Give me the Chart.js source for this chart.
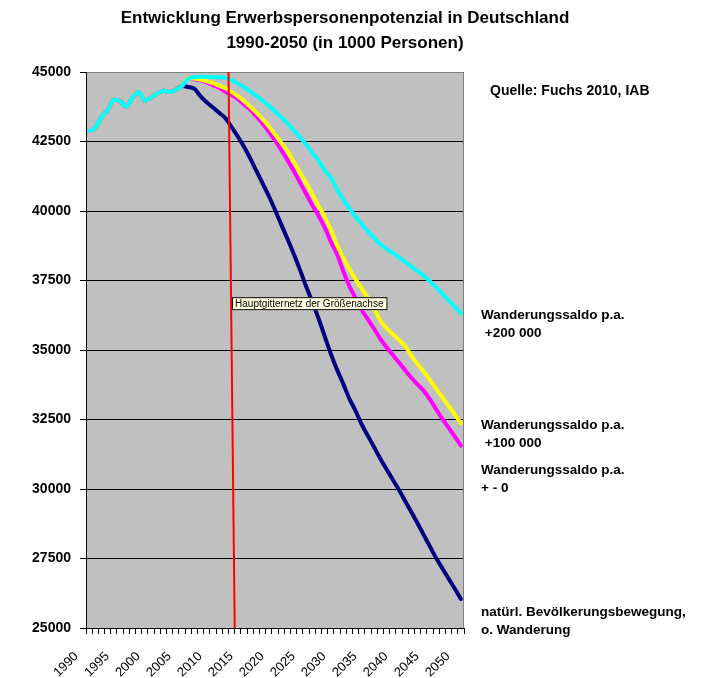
<!DOCTYPE html>
<html>
<head>
<meta charset="utf-8">
<script src="https://cdn.jsdelivr.net/npm/chart.js@4.4.0/dist/chart.umd.min.js"></script>
<style>
  html, body { margin: 0; padding: 0; background: #fff; }
  #wrap { width: 703px; height: 678px; }
</style>
</head>
<body>
<div id="wrap"><canvas id="potChart"></canvas></div>
<script>
// categories 1990..2050
const years = Array.from({ length: 61 }, (_, i) => String(1990 + i));
const yearLabels = ['1990', '1995', '2000', '2005', '2010', '2015', '2020',
  '2025', '2030', '2035', '2040', '2045', '2050'];

// 1990-2005, common to all series
const history = [42880, 42990, 43380, 43630, 44000, 43950, 43750, 44080,
  44270, 43970, 44080, 44220, 44330, 44280, 44360, 44500];

// 2006-2050
const plus200k = [44760, 44820, 44830, 44830, 44820, 44810, 44790, 44710, 44590, 44460,
  44300, 44140, 43970, 43790, 43580, 43370, 43150, 42910, 42660, 42400,
  42100, 41820, 41470, 41200, 40770, 40420, 40100, 39800, 39520, 39270,
  39030, 38800, 38640, 38490, 38330, 38170, 38010, 37840, 37680, 37470,
  37250, 37020, 36790, 36560, 36320];
const plus100k = [44790, 44760, 44730, 44670, 44600, 44500, 44420, 44280, 44130, 43950,
  43750, 43540, 43300, 43040, 42750, 42460, 42160, 41770, 41390, 41020,
  40610, 40200, 39800, 39330, 38780, 38320, 37910, 37550, 37210, 36870,
  36500, 36060, 35790, 35570, 35360, 35140, 34800, 34500, 34220, 33930,
  33610, 33300, 32990, 32680, 32360];
const plusZero = [44790, 44740, 44700, 44630, 44530, 44430, 44290, 44180, 44030, 43830,
  43650, 43400, 43150, 42850, 42540, 42200, 41840, 41460, 41040, 40630,
  40220, 39840, 39420, 38900, 38450, 37850, 37300, 36870, 36440, 36100,
  35760, 35400, 35100, 34830, 34550, 34270, 34000, 33760, 33530, 33220,
  32870, 32520, 32210, 31890, 31560];
const natural = [44460, 44390, 44120, 43900, 43720, 43530, 43340, 43020, 42680, 42310,
  41890, 41440, 40990, 40540, 40040, 39520, 39000, 38470, 37900, 37300,
  36740, 36150, 35510, 34870, 34300, 33790, 33250, 32810, 32320, 31910,
  31500, 31090, 30710, 30340, 29970, 29570, 29170, 28770, 28350, 27930,
  27520, 27150, 26780, 26420, 26040];

const titleLines = ['Entwicklung Erwerbspersonenpotenzial in Deutschland',
  '1990-2050 (in 1000 Personen)'];
const sourceNote = 'Quelle: Fuchs 2010, IAB';
const seriesNotes = [
  ['Wanderungssaldo p.a.', ' +200 000'],
  ['Wanderungssaldo p.a.', ' +100 000'],
  ['Wanderungssaldo p.a.', '+ - 0'],
  ['natürl. Bevölkerungsbewegung,', 'o. Wanderung']
];
const hintText = 'Hauptgitternetz der Größenachse';
// red marker line: year at top, year at bottom
const markerYears = [2012.5, 2013.5];

const FONT = '"Liberation Sans", Arial, sans-serif';

const decor = {
  id: 'decor',
  beforeDraw(chart) {
    const { ctx, chartArea: a } = chart;
    ctx.save();
    ctx.fillStyle = '#c0c0c0';
    ctx.fillRect(a.left, a.top, a.right - a.left, a.bottom - a.top);
    ctx.restore();
  },
  beforeDatasetsDraw(chart) {
    const { ctx, chartArea: a } = chart;
    ctx.save();
    ctx.strokeStyle = '#808080';
    ctx.lineWidth = 1;
    ctx.beginPath();
    ctx.moveTo(a.left + 1, a.top + 0.5);
    ctx.lineTo(a.right - 0.5, a.top + 0.5);
    ctx.lineTo(a.right - 0.5, a.bottom);
    ctx.stroke();
    ctx.restore();
  },
  afterDatasetsDraw(chart) {
    const { ctx } = chart;
    const xs = chart.scales.x, ys = chart.scales.y;
    const x0 = xs.getPixelForValue(markerYears[0] - 1990);
    const x1 = xs.getPixelForValue(markerYears[1] - 1990);
    const y0 = ys.getPixelForValue(ys.max), y1 = ys.getPixelForValue(ys.min);
    ctx.save();
    ctx.strokeStyle = '#ff0000';
    ctx.lineWidth = 2;
    ctx.beginPath();
    ctx.moveTo(x0, y0);
    ctx.lineTo(x1, y1);
    ctx.stroke();

    // hint box hanging off the red line
    const by = ys.getPixelForValue(36900);
    const bx = x0 + (x1 - x0) * (by - y0) / (y1 - y0) + 1;
    ctx.font = '10px ' + FONT;
    const w = ctx.measureText(hintText).width + 7;
    ctx.fillStyle = '#ffffe1';
    ctx.fillRect(bx, by, w, 13);
    ctx.strokeStyle = '#000';
    ctx.lineWidth = 1;
    ctx.strokeRect(bx + 0.5, by + 0.5, w - 1, 12);
    ctx.fillStyle = '#000';
    ctx.textBaseline = 'middle';
    ctx.fillText(hintText, bx + 3, by + 7);
    ctx.restore();
  },
  afterDraw(chart) {
    const { ctx } = chart;
    ctx.save();
    ctx.fillStyle = '#000';
    ctx.textBaseline = 'middle';
    ctx.textAlign = 'center';
    ctx.font = 'bold 17px ' + FONT;
    ctx.fillText(titleLines[0], 345, 18);
    ctx.fillText(titleLines[1], 345, 43);

    ctx.textAlign = 'left';
    ctx.font = 'bold 14px ' + FONT;
    ctx.fillText(sourceNote, 490, 91);
    ctx.font = 'bold 13.5px ' + FONT;
    const noteTops = [315, 425, 470, 612];
    seriesNotes.forEach((lines, i) => {
      ctx.fillText(lines[0], 481, noteTops[i]);
      ctx.fillText(lines[1], 481, noteTops[i] + 18.5);
    });
    ctx.restore();
  }
};

const full = part => history.concat(part);

new Chart(document.getElementById('potChart'), {
  type: 'line',
  data: {
    labels: years,
    datasets: [
      { label: 'Wanderungssaldo +200 000', data: full(plus200k), borderColor: '#00ffff' },
      { label: 'Wanderungssaldo +100 000', data: full(plus100k), borderColor: '#ffff00' },
      { label: 'Wanderungssaldo +-0', data: full(plusZero), borderColor: '#ff00ff' },
      { label: 'natürl. Bevölkerungsbewegung', data: full(natural), borderColor: '#000080' }
    ]
  },
  options: {
    responsive: true,
    maintainAspectRatio: false,
    animation: false,
    layout: { padding: { left: 0, top: 72, right: 239, bottom: 0 } },
    elements: {
      line: { borderWidth: 4, cubicInterpolationMode: 'monotone', borderCapStyle: 'round', borderJoinStyle: 'round' },
      point: { radius: 0, hoverRadius: 0 }
    },
    plugins: {
      legend: { display: false },
      title: { display: false },
      tooltip: { enabled: false }
    },
    scales: {
      x: {
        offset: true,
        afterFit(scale) { scale.height = 50; },
        grid: {
          offset: true,
          drawOnChartArea: false,
          drawTicks: true,
          tickLength: 6,
          color: '#000'
        },
        border: { color: '#000', width: 1 },
        ticks: {
          autoSkip: false,
          minRotation: 45,
          maxRotation: 45,
          padding: 2,
          color: '#000',
          font: { family: FONT, size: 13 },
          callback(value) {
            const lab = this.getLabelForValue(value);
            // trailing blanks push the rotated text down-left like the original
            return yearLabels.includes(lab) ? lab + '     ' : '';
          }
        }
      },
      y: {
        min: 25000,
        max: 45000,
        afterFit(scale) { scale.width = 86; },
        grid: { color: '#000', lineWidth: 1, tickLength: 6 },
        border: { color: '#000', width: 1 },
        ticks: {
          stepSize: 2500,
          padding: 9,
          color: '#000',
          font: { family: FONT, size: 14, weight: 'bold' },
          callback: v => String(v)
        }
      }
    }
  },
  plugins: [decor]
});
</script>
</body>
</html>
